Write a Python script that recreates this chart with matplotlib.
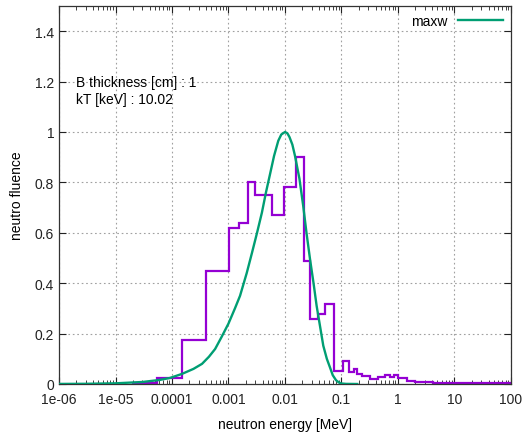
import matplotlib

matplotlib.use("Agg")
import matplotlib.pyplot as plt
import numpy as np
from matplotlib.ticker import FixedLocator, LogLocator, NullFormatter

plt.rcParams["font.family"] = ["Liberation Sans", "DejaVu Sans"]

# histogram group edges [MeV] and fluence per group
bin_edges = [2.04e-5, 5.43e-5, 1.49e-4, 4.0e-4, 1.01e-3, 1.55e-3, 2.24e-3, 2.94e-3,
             5.96e-3, 9.6e-3, 1.57e-2, 2.2e-2, 2.77e-2, 3.79e-2, 5.1e-2, 7.36e-2,
             0.105, 0.137, 0.166, 0.19, 0.228, 0.319, 0.448, 0.589, 0.721, 0.861,
             1.01, 1.43, 2.0, 4.22, 100.0]
bin_values = [0.003, 0.024, 0.176, 0.45, 0.62, 0.64, 0.80, 0.75,
              0.67, 0.78, 0.90, 0.487, 0.258, 0.278, 0.317, 0.053,
              0.092, 0.049, 0.06, 0.04, 0.03, 0.02, 0.029, 0.037, 0.026, 0.036,
              0.024, 0.013, 0.007, 0.003]

# maxwellian curve samples
maxw_e = [1e-6, 3e-6, 1e-5, 3e-5, 6e-5, 9.2e-5, 1.5e-4, 2.4e-4, 3.4e-4, 4.5e-4,
          5.8e-4, 7.6e-4, 1e-3, 1.3e-3, 1.6e-3, 2.1e-3, 2.6e-3, 3.2e-3, 3.9e-3,
          4.6e-3, 5.4e-3, 6.4e-3, 7.6e-3, 8.6e-3, 1e-2, 1.1e-2, 1.2e-2, 1.35e-2,
          1.5e-2, 1.8e-2, 2.1e-2, 2.4e-2, 2.77e-2, 3.2e-2, 3.63e-2, 4.2e-2,
          4.76e-2, 5.5e-2, 6.25e-2, 7e-2, 8e-2, 9e-2, 0.1, 0.12, 0.19]
maxw_v = [0.0003, 0.0008, 0.0027, 0.008, 0.016, 0.024, 0.04, 0.06, 0.08, 0.108,
          0.139, 0.188, 0.24, 0.3, 0.35, 0.44, 0.52, 0.6, 0.68,
          0.76, 0.83, 0.905, 0.965, 0.99, 1.0, 0.995, 0.98, 0.95,
          0.906, 0.815, 0.707, 0.6, 0.496, 0.40, 0.31, 0.225,
          0.152, 0.10, 0.066, 0.035, 0.015, 0.006, 0.002, 0.0005, 0.0]

xticks = [1e-6, 1e-5, 1e-4, 1e-3, 1e-2, 1e-1, 1, 10, 100]
xtick_labels = ["1e-06", "1e-05", "0.0001", "0.001", "0.01", "0.1", "1", "10", "100"]
yticks = [0, 0.2, 0.4, 0.6, 0.8, 1.0, 1.2, 1.4]
ytick_labels = ["0", "0.2", "0.4", "0.6", "0.8", "1", "1.2", "1.4"]

PURPLE = "#9400d3"
GREEN = "#009e73"

fig = plt.figure(figsize=(5.22, 4.39), dpi=100)
ax = fig.add_axes([59 / 522, 1 - 385 / 439, 452 / 522, 378 / 439])

ax.stairs(bin_values, bin_edges, color=PURPLE, lw=1.6, zorder=2)
ax.plot(maxw_e, maxw_v, color=GREEN, lw=1.7, label="maxw", zorder=3)

ax.set_xscale("log")
ax.set_xlim(1e-6, 100)
ax.set_ylim(0, 1.5)
ax.set_xticks(xticks)
ax.set_xticklabels(xtick_labels)
ax.xaxis.set_minor_locator(LogLocator(base=10, subs=np.arange(2, 10), numticks=20))
ax.xaxis.set_minor_formatter(NullFormatter())
ax.yaxis.set_major_locator(FixedLocator(yticks))
ax.set_yticklabels(ytick_labels)

ax.tick_params(which="both", direction="in", top=True, right=True, labelsize=10, colors="#222")
ax.tick_params(which="major", length=5, width=0.8)
ax.tick_params(which="minor", length=3, width=0.6)
ax.tick_params(axis="x", pad=6)
ax.grid(True, which="major", color="#a0a0a0", linestyle=(0, (1.5, 2.5)), lw=0.8)
for s in ax.spines.values():
    s.set_color("#333")
    s.set_linewidth(0.9)

ax.set_xlabel("neutron energy [MeV]", fontsize=10, labelpad=8)
ax.set_ylabel("neutro fluence", fontsize=10, labelpad=8)

ax.text(0.038, 0.8, "B thickness [cm] : 1", transform=ax.transAxes, fontsize=10, va="center")
ax.text(0.038, 0.753, "kT [keV] : 10.02", transform=ax.transAxes, fontsize=10, va="center")

leg = ax.legend(loc="upper right", frameon=False, fontsize=10, markerfirst=False,
                handlelength=3.2, borderaxespad=0.2, handletextpad=0.8)

fig.savefig("out.png", dpi=100, facecolor="white")
